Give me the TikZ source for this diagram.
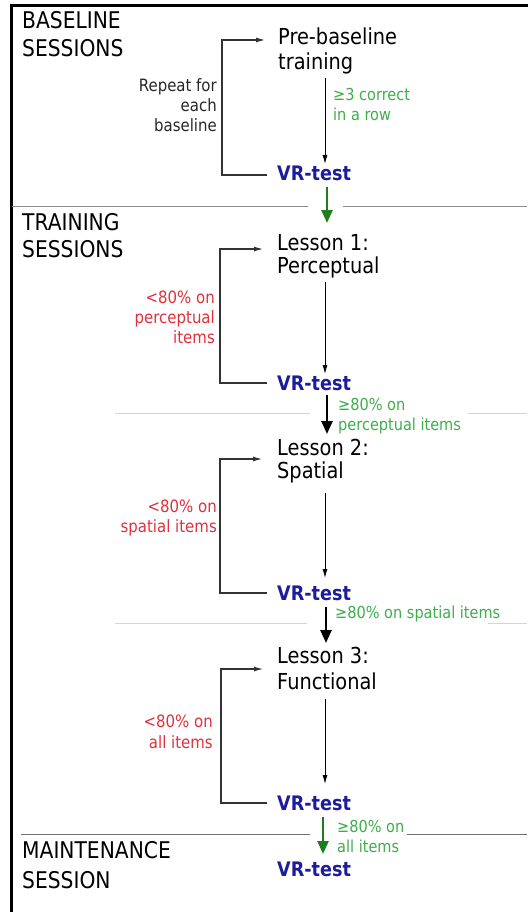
\documentclass[tikz,border=0pt]{standalone}
\usepackage{fontspec}
\setmainfont{DejaVu Sans}[FakeStretch=0.88]
\usetikzlibrary{arrows.meta}
\definecolor{vrblue}{HTML}{1C1C9C}
\definecolor{failred}{HTML}{E0303C}
\definecolor{passgreen}{HTML}{3DAE4A}
\definecolor{arrgreen}{HTML}{1E7E1E}
\definecolor{sepdark}{HTML}{8C8C8C}
\definecolor{seplight}{HTML}{D4D4D4}
\begin{document}
\begin{tikzpicture}[x=1pt,y=-1pt,
  every node/.style={inner sep=0pt},
  sect/.style={anchor=base west, font=\fontsize{23}{28}\selectfont},
  stage/.style={anchor=base west, font=\fontsize{22}{26}\selectfont},
  vr/.style={anchor=base west, font=\fontsize{20}{24}\selectfont\bfseries, text=vrblue},
  fail/.style={anchor=base east, font=\fontsize{17}{20}\selectfont, text=failred},
  note/.style={anchor=base east, font=\fontsize{17}{20}\selectfont, text=black!85},
  pass/.style={anchor=base west, font=\fontsize{16.5}{20}\selectfont, text=passgreen},
  thinarrow/.style={-{Latex[length=9pt,width=5pt]}, line width=0.9pt},
  loopline/.style={-{Latex[length=9pt,width=5pt]}, line width=1.1pt, draw=black!80},
  bigarrow/.style={-{Triangle[length=13pt,width=11pt]}, line width=2.5pt},
  sepline/.style={line width=1pt}]

\useasboundingbox (0,0) rectangle (527,912);
\draw[line width=3pt] (11,913) -- (11,6) -- (528,6);

% separators
\draw[sepline, sepdark] (12,206) -- (308,206);
\draw[sepline, sepdark] (343,206) -- (527,206);
\draw[sepline, seplight] (115,413) -- (310,413);
\draw[sepline, seplight] (468,413) -- (527,413);
\draw[sepline, seplight] (115,623) -- (307,623);
\draw[sepline, seplight] (488,623) -- (527,623);
\draw[sepline, sepdark!80!black] (21,834) -- (310,834);
\draw[sepline, sepdark!80!black] (407,834) -- (527,834);

% section labels
\node[sect] (s1a) at (22,29) {BASELINE};
\node[sect] (s1b) at (22,57) {SESSIONS};
\node[sect] (s2a) at (22,230) {TRAINING};
\node[sect] (s2b) at (22,257) {SESSIONS};
\node[sect] (s3a) at (22,858) {MAINTENANCE};
\node[sect] (s3b) at (22,888) {SESSION};

% stage texts
\node[stage] (pb1) at (278,45) {Pre-baseline};
\node[stage] (pb2) at (278,70) {training};
\node[vr] (vr1) at (277,181) {VR-test};
\node[stage] (l1a) at (277,250) {Lesson 1:};
\node[stage] (l1b) at (277,273) {Perceptual};
\node[vr] (vr2) at (277,390) {VR-test};
\node[stage] (l2a) at (277,455) {Lesson 2:};
\node[stage] (l2b) at (277,478) {Spatial};
\node[vr] (vr3) at (277,600) {VR-test};
\node[stage] (l3a) at (277,663) {Lesson 3:};
\node[stage] (l3b) at (277,689) {Functional};
\node[vr] (vr4) at (277,810) {VR-test};
\node[vr] (vr5) at (277,876) {VR-test};

% loop labels
\node[note] (r1) at (217,92) {Repeat for};
\node[note] (r2) at (217,112) {each};
\node[note] (r3) at (217,132) {baseline};
\node[fail] (f1a) at (215,303) {<80\% on};
\node[fail] (f1b) at (215,323) {perceptual};
\node[fail] (f1c) at (215,343) {items};
\node[fail] (f2a) at (217,512) {<80\% on};
\node[fail] (f2b) at (217,532) {spatial items};
\node[fail] (f3a) at (213,727) {<80\% on};
\node[fail] (f3b) at (213,748) {all items};

% pass labels
\node[pass] (p0a) at (333,101) {≥3 correct};
\node[pass] (p0b) at (333,121) {in a row};
\node[pass] (p1a) at (338,410) {≥80\% on};
\node[pass] (p1b) at (338,430) {perceptual items};
\node[pass] (p2) at (335,618) {≥80\% on spatial items};
\node[pass] (p3a) at (337,832) {≥80\% on};
\node[pass] (p3b) at (337,852) {all items};

% arrow end points
\coordinate (a0s) at (325,78);  \coordinate (a0e) at (325,164);
\coordinate (a1s) at (325,282); \coordinate (a1e) at (325,374);
\coordinate (a2s) at (325,493); \coordinate (a2e) at (325,578);
\coordinate (a3s) at (325,699); \coordinate (a3e) at (325,784);

\draw[thinarrow] (a0s) -- (a0e);
\draw[thinarrow] (a1s) -- (a1e);
\draw[thinarrow] (a2s) -- (a2e);
\draw[thinarrow] (a3s) -- (a3e);

\coordinate (g1s) at (327,187); \coordinate (g1e) at (327,223);
\coordinate (b1s) at (327,395); \coordinate (b1e) at (327,434);
\coordinate (b2s) at (326,607); \coordinate (b2e) at (326,643);
\coordinate (g2s) at (323,817); \coordinate (g2e) at (323,854);

\draw[bigarrow, arrgreen] (g1s) -- (g1e);
\draw[bigarrow] (b1s) -- (b1e);
\draw[bigarrow] (b2s) -- (b2e);
\draw[bigarrow, arrgreen] (g2s) -- (g2e);

% loop-back brackets
\coordinate (k0b) at (267,175); \coordinate (k0t) at (265,40);
\coordinate (k1b) at (267,383); \coordinate (k1t) at (263,249);
\coordinate (k2b) at (267,593); \coordinate (k2t) at (262,459);
\coordinate (k3b) at (267,803); \coordinate (k3t) at (263,669);

\draw[loopline] (k0b) -- (222,175) -- (222,40) -- (k0t);
\draw[loopline] (k1b) -- (220,383) -- (220,249) -- (k1t);
\draw[loopline] (k2b) -- (220,593) -- (220,459) -- (k2t);
\draw[loopline] (k3b) -- (221,803) -- (221,669) -- (k3t);
\end{tikzpicture}
\end{document}
